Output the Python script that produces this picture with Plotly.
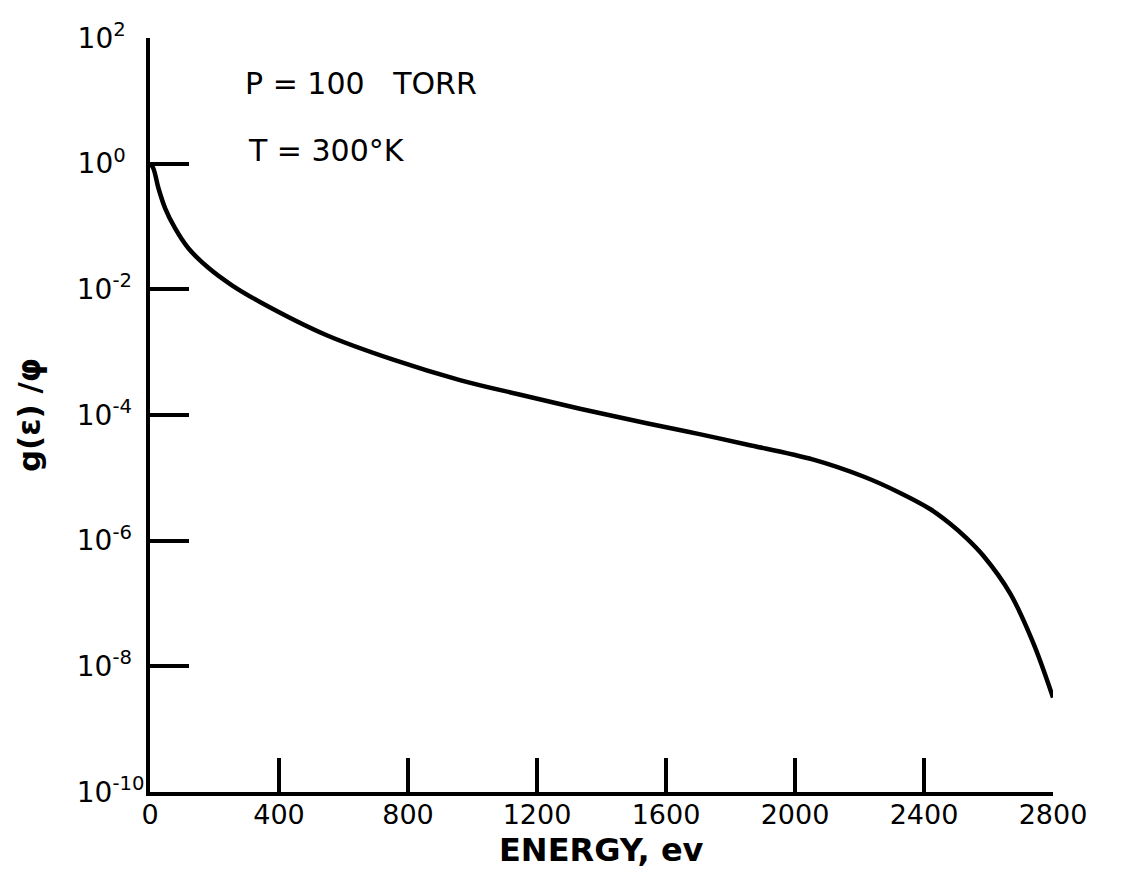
import plotly.graph_objects as go

# Data
energy_ev = [0, 10, 26, 47, 78, 119, 181, 253, 341, 548, 754, 961, 1142, 1333, 1540,
             1700, 1850, 2057, 2212, 2326, 2420, 2481, 2530, 2584, 2667, 2739, 2800]
g_over_phi = [1.0, 8.5e-1, 4.1e-1, 1.95e-1, 9.3e-2, 4.5e-2, 2.2e-2, 1.17e-2, 6.3e-3,
              1.86e-3, 7.6e-4, 3.6e-4, 2.14e-4, 1.26e-4, 7.4e-5, 5.0e-5, 3.4e-5, 1.95e-5,
              1.05e-5, 5.75e-6, 3.16e-6, 1.86e-6, 1.12e-6, 5.75e-7, 1.45e-7, 2.35e-8, 3.2e-9]

x_tick_vals = [0, 400, 800, 1200, 1600, 2000, 2400, 2800]
x_tick_text = ["0", "400", "800", "1200", "1600", "2000", "2400", "2800"]
y_tick_vals = [1e2, 1e0, 1e-2, 1e-4, 1e-6, 1e-8, 1e-10]
y_tick_exps = ["2", "0", "-2", "-4", "-6", "-8", "-10"]

FONT = "DejaVu Sans"
NBSP = "\u00a0"

# left-aligned look: pad the shorter exponents with non-breaking spaces
pad = {1: NBSP * 3, 2: NBSP * 2, 3: ""}
y_tick_text = ["10<sup>" + e + pad[len(e)] + "</sup>" for e in y_tick_exps]

fig = go.Figure()
fig.add_trace(go.Scatter(
    x=energy_ev, y=g_over_phi, mode="lines",
    line=dict(color="black", width=4.5, shape="spline", smoothing=1.0),
    showlegend=False, hoverinfo="skip", cliponaxis=False))

fig.update_layout(
    width=1121, height=890,
    margin=dict(l=142, r=76, t=30, b=106),
    paper_bgcolor="white", plot_bgcolor="white",
    font=dict(family=FONT, color="black"),
    xaxis=dict(
        range=[0, 2800], showgrid=False, zeroline=False, automargin=False,
        showline=True, linecolor="black", linewidth=4,
        ticks="inside", ticklen=34, tickwidth=4, tickcolor="black",
        tickvals=x_tick_vals, ticktext=x_tick_text,
        tickfont=dict(size=27, family=FONT), ticklabelstandoff=-4,
    ),
    yaxis=dict(
        type="log", range=[-10, 2], showgrid=False, zeroline=False, automargin=False,
        showline=True, linecolor="black", linewidth=4,
        ticks="inside", ticklen=39, tickwidth=4, tickcolor="black",
        tickvals=y_tick_vals, ticktext=y_tick_text,
        tickfont=dict(size=28, family=FONT), ticklabelstandoff=-4,
        title=dict(text="<b>g(ε) /φ</b>", font=dict(size=31, family=FONT), standoff=28),
    ),
    annotations=[
        dict(text="<b>ENERGY, ev</b>", xref="paper", yref="paper", x=0.5, y=-0.077,
             xanchor="center", yanchor="middle", showarrow=False,
             font=dict(size=32, family=FONT)),
        dict(text="P = 100   TORR", xref="paper", yref="paper", x=0.103, y=0.940,
             xanchor="left", yanchor="middle", showarrow=False,
             font=dict(size=30, family=FONT)),
        dict(text="T = 300°K", xref="paper", yref="paper", x=0.106, y=0.851,
             xanchor="left", yanchor="middle", showarrow=False,
             font=dict(size=30, family=FONT)),
    ],
)

fig.write_html("out.html")
